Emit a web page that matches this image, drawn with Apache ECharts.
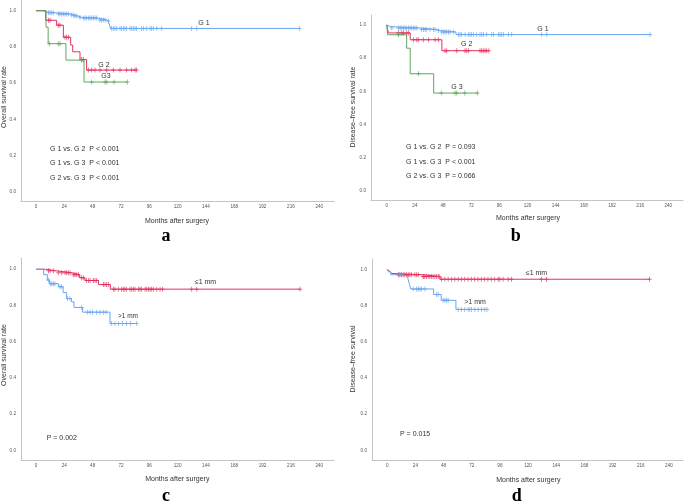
<!DOCTYPE html>
<html>
<head>
<meta charset="utf-8">
<script src="https://cdn.jsdelivr.net/npm/echarts@6/dist/echarts.min.js"></script>
<style>
  html, body { margin: 0; padding: 0; background: #fff; }
</style>
</head>
<body>
<div id="main" style="width: 685px; height: 503px"></div>
<script>
// tick labels
const xTicks = [0, 24, 48, 72, 96, 120, 144, 168, 192, 216, 240]
const yTicks = [0, 0.2, 0.4, 0.6, 0.8, 1.0]

// panel a - overall survival, groups G1 / G2 / G3  ([month, survival] at each drop)
const aG1 = [[0, 1], [6.2, 0.993], [9, 0.989], [16, 0.982], [28.8, 0.976], [32.2, 0.97], [35.9, 0.963], [38.7, 0.959], [52.8, 0.948], [60.5, 0.943], [62.1, 0.926], [63.3, 0.902], [223.2, 0.902]]
const aG1Cens = [10.5, 11.9, 13.3, 14.7, 18.9, 20.3, 21.8, 23.2, 24.6, 26, 27.4, 30.2, 31.6, 33, 34.5, 37.3, 40.1, 41.5, 42.9, 44.4, 45.8, 47.2, 48.6, 50, 51.4, 54.2, 55.6, 57.1, 58.5, 61.3, 64.1, 65.5, 66.9, 68.4, 71.2, 72.6, 74, 75.4, 76.8, 79.7, 81.1, 82.5, 83.9, 85.3, 89.5, 91, 93.8, 96.6, 98, 99.4, 102.3, 106.5, 131.9, 136.2, 223.2]
const aG2 = [[0, 1], [8.2, 0.947], [17.5, 0.92], [23.2, 0.853], [29.4, 0.81], [31.1, 0.773], [37.3, 0.73], [42.9, 0.672], [85.3, 0.672]]
const aG2Cens = [10.5, 11.9, 18.9, 20.3, 24.6, 26, 27.4, 38.7, 40.1, 44.4, 47.2, 50, 54.2, 59.9, 65.5, 71.2, 76.8, 81.1, 83.9, 85.3]
const aG3 = [[0, 1], [8.5, 0.909], [10.3, 0.818], [25.4, 0.727], [40.7, 0.606], [77.4, 0.606]]
const aG3Cens = [11.3, 18.9, 20.3, 38.7, 47.2, 58.5, 59.9, 66.1, 77.4]

// panel b - disease-free survival, groups G1 / G2 / G3
const bG1 = [[0, 1], [1.2, 0.99], [3, 0.982], [28, 0.973], [42.5, 0.966], [45.5, 0.958], [59, 0.942], [224.4, 0.942]]
const bG1Cens = [4.3, 9.9, 11.4, 12.8, 14.2, 15.6, 17, 18.5, 19.9, 21.3, 22.7, 24.1, 25.6, 29.8, 31.3, 32.7, 34.1, 36.9, 39.8, 41.2, 44, 46.9, 48.3, 49.7, 51.1, 52.6, 54, 56.8, 61.1, 62.5, 63.9, 66.8, 69.6, 71, 72.4, 73.9, 76.7, 79.5, 81, 82.4, 85.2, 89.5, 90.9, 95.2, 96.6, 98, 99.4, 103.7, 106.5, 132.1, 136.4, 224.4]
const bG2 = [[0, 1], [1.5, 0.952], [20, 0.911], [47, 0.845], [87, 0.845]]
const bG2Cens = [9.9, 12.8, 14.2, 17, 18.4, 22.7, 25.6, 26.9, 31.2, 35.5, 41.2, 44, 49.7, 51.1, 59.7, 66.7, 68.2, 69.6, 79.5, 81, 82.3, 83.8, 85.2, 87]
const bG3 = [[0, 1], [0.8, 0.941], [17, 0.86], [20, 0.706], [40, 0.59], [77.3, 0.59]]
const bG3Cens = [9.9, 27, 46.5, 58.2, 59.7, 66.5, 77.3]

// panel c - overall survival, margin <=1 mm / >1 mm
const cLe1 = [[0, 1], [8, 0.992], [16, 0.981], [30, 0.97], [37, 0.953], [41.5, 0.938], [53, 0.915], [63, 0.89], [223.7, 0.89]]
const cLe1Cens = [10.5, 11.9, 14.7, 18.9, 21.8, 24.6, 26, 27.4, 28.8, 31.6, 33, 34.5, 35.9, 38.7, 40.1, 42.9, 44.4, 45.8, 48.6, 50, 51.4, 57.1, 58.5, 59.9, 61.3, 65.5, 66.9, 69.8, 72.6, 74, 75.4, 76.8, 79.7, 81.1, 82.5, 83.9, 86.7, 88.1, 89.5, 92.4, 93.8, 95.2, 96.6, 98, 99.4, 102.3, 105.1, 107.3, 131.9, 136.2, 223.7]
const cGt1 = [[0, 1], [6.5, 0.97], [9.6, 0.94], [11.3, 0.92], [19, 0.903], [23, 0.871], [26, 0.838], [30, 0.82], [32.2, 0.789], [39.5, 0.763], [62.7, 0.70], [85.3, 0.70]]
const cGt1Cens = [10.5, 12.5, 13.3, 14.7, 16, 20.3, 21.8, 26.8, 28.8, 38.7, 43.5, 45.8, 48, 51.4, 54.2, 57.1, 59.3, 64.1, 66.9, 69.8, 73.4, 76.8, 80.2, 85.3]

// panel d - disease-free survival, margin <=1 mm / >1 mm
const dLe1 = [[0, 1], [1, 0.993], [2, 0.986], [3.5, 0.979], [5, 0.972], [29.5, 0.962], [45, 0.947], [223.5, 0.947]]
const dLe1Cens = [9.4, 10.8, 12.2, 13.6, 15, 16.5, 17.9, 19.3, 20.7, 23.5, 25, 26.4, 30.5, 31.2, 32.1, 33.5, 34.9, 36.3, 37.7, 39.1, 40.6, 42, 43.4, 44.2, 46.2, 49.1, 51.9, 54.7, 57.6, 60.4, 63.1, 66, 68.8, 71.6, 74.5, 77.3, 80.1, 83, 85.8, 88.6, 91.6, 94.5, 95.9, 98.7, 103, 105.8, 131.3, 135.6, 223.5]
const dGt1 = [[0, 1], [1, 0.988], [3, 0.972], [17.5, 0.952], [19, 0.917], [20, 0.893], [39.5, 0.862], [46, 0.83], [58.5, 0.78], [85, 0.78]]
const dGt1Cens = [10, 12, 22.1, 25, 26.4, 27.8, 29.3, 32.1, 42, 43.4, 47.7, 49.1, 50.5, 51.9, 60.4, 63.1, 66, 68.9, 70.3, 71.8, 74.6, 77.4, 80.3, 83.1, 85]

const BLUE = '#68a5ef'
const RED = '#e2305e'
const GREEN = '#5ca85c'
const FONT = '"Liberation Sans", Arial, sans-serif'
const PLUS = 'path://M4,0H6V4H10V6H6V10H4V6H0V4H4Z'

// survival value of a step curve at month t
function survAt(steps, t) {
    let s = steps[0][1]
    for (const p of steps) {
        if (p[0] <= t) s = p[1]
    }
    return s
}

// grid boxes + axis ranges of the four panels
const panels = [
    { left: 21, top: 0, width: 313, height: 201, xMin: -12.7, xMax: 252.5, yMin: -0.051, yMax: 1.059 },
    { left: 371, top: 15, width: 312, height: 185, xMin: -13.4, xMax: 252.5, yMin: -0.054, yMax: 1.06 },
    { left: 21, top: 258, width: 313, height: 202, xMin: -12.7, xMax: 252.5, yMin: -0.0535, yMax: 1.062 },
    { left: 372, top: 259, width: 311, height: 201, xMin: -13.0, xMax: 252, yMin: -0.054, yMax: 1.059 }
]

const curves = [
    { p: 0, steps: aG1, cens: aG1Cens, color: BLUE },
    { p: 0, steps: aG2, cens: aG2Cens, color: RED },
    { p: 0, steps: aG3, cens: aG3Cens, color: GREEN },
    { p: 1, steps: bG1, cens: bG1Cens, color: BLUE },
    { p: 1, steps: bG2, cens: bG2Cens, color: RED },
    { p: 1, steps: bG3, cens: bG3Cens, color: GREEN },
    { p: 2, steps: cLe1, cens: cLe1Cens, color: RED },
    { p: 2, steps: cGt1, cens: cGt1Cens, color: BLUE },
    { p: 3, steps: dLe1, cens: dLe1Cens, color: RED },
    { p: 3, steps: dGt1, cens: dGt1Cens, color: BLUE }
]

const series = []
for (const c of curves) {
    series.push({
        type: 'line',
        xAxisIndex: c.p,
        yAxisIndex: c.p,
        step: 'end',
        showSymbol: false,
        lineStyle: { color: c.color, width: 1 },
        data: c.steps,
        silent: true,
        z: 2
    })
    series.push({
        type: 'scatter',
        xAxisIndex: c.p,
        yAxisIndex: c.p,
        symbol: PLUS,
        symbolSize: [4, 5],
        itemStyle: { color: c.color },
        data: c.cens.map(t => [t, survAt(c.steps, t)]),
        silent: true,
        z: 3
    })
}

function txt(text, x, y, size, opts) {
    return Object.assign({
        type: 'text',
        x: x,
        y: y,
        silent: true,
        style: {
            text: text,
            font: size + 'px ' + FONT,
            fill: '#333',
            textAlign: 'center',
            textVerticalAlign: 'middle'
        }
    }, opts || {})
}
function left(text, x, y) {
    const t = txt(text, x, y, 7)
    t.style.textAlign = 'left'
    return t
}
function ytitle(text, x, y) {
    return txt(text, x, y, 7, { rotation: Math.PI / 2 })
}
function letter(text, x, y) {
    const t = txt(text, x, y, 18)
    t.style.font = 'bold 18px "Liberation Serif", "Times New Roman", serif'
    t.style.fill = '#000'
    return t
}

const graphics = [
    // panel a
    txt('G 1', 204, 23.3, 7), txt('G 2', 104, 65.3, 7), txt('G3', 106, 76.3, 7),
    left('G 1 vs. G 2  P < 0.001', 50, 148.7),
    left('G 1 vs. G 3  P < 0.001', 50, 163.3),
    left('G 2 vs. G 3  P < 0.001', 50, 177.7),
    txt('Months after surgery', 177, 220.7, 7),
    ytitle('Overall survival rate', 4.5, 97),
    letter('a', 166, 236.4),
    // panel b
    txt('G 1', 543, 29, 7), txt('G 2', 466.7, 44.3, 7), txt('G 3', 457, 86.7, 7),
    left('G 1 vs. G 2  P = 0.093', 406, 146.7),
    left('G 1 vs. G 3  P < 0.001', 406, 162.3),
    left('G 2 vs. G 3  P = 0.066', 406, 176),
    txt('Months after surgery', 528, 217.7, 7),
    ytitle('Disease\u2013free survival rate', 353.5, 107),
    letter('b', 515.7, 236.4),
    // panel c
    txt('\u22641 mm', 205.5, 282, 7), txt('>1 mm', 128, 316, 6.5),
    left('P = 0.002', 46.7, 437.7),
    txt('Months after surgery', 177.3, 479.3, 7),
    ytitle('Overall survival rate', 4.5, 355),
    letter('c', 166, 496),
    // panel d
    txt('\u22641 mm', 536.5, 272.7, 7), txt('>1 mm', 475, 302.3, 7),
    left('P = 0.015', 400, 434.3),
    txt('Months after surgery', 528.3, 480, 7),
    ytitle('Disease\u2013free survival', 353.5, 359),
    letter('d', 516.7, 496)
]

const chart = echarts.init(document.getElementById('main'))
chart.setOption({
    animation: false,
    backgroundColor: '#fff',
    grid: panels.map(p => ({ left: p.left, top: p.top, width: p.width, height: p.height })),
    xAxis: panels.map((p, i) => ({
        type: 'value',
        gridIndex: i,
        min: p.xMin,
        max: p.xMax,
        splitLine: { show: false },
        axisTick: { show: false },
        axisLine: { onZero: false, lineStyle: { color: '#c4c4c4', width: 1 } },
        axisLabel: {
            customValues: xTicks,
            margin: 3,
            fontSize: 4.6,
            color: '#555',
            fontFamily: FONT
        }
    })),
    yAxis: panels.map((p, i) => ({
        type: 'value',
        gridIndex: i,
        min: p.yMin,
        max: p.yMax,
        splitLine: { show: false },
        axisTick: { show: false },
        axisLine: { show: true, onZero: false, lineStyle: { color: '#c4c4c4', width: 1 } },
        axisLabel: {
            customValues: yTicks,
            formatter: v => v.toFixed(1),
            margin: 5,
            fontSize: 4.6,
            color: '#555',
            fontFamily: FONT
        }
    })),
    series: series,
    graphic: graphics
})
</script>
</body>
</html>
